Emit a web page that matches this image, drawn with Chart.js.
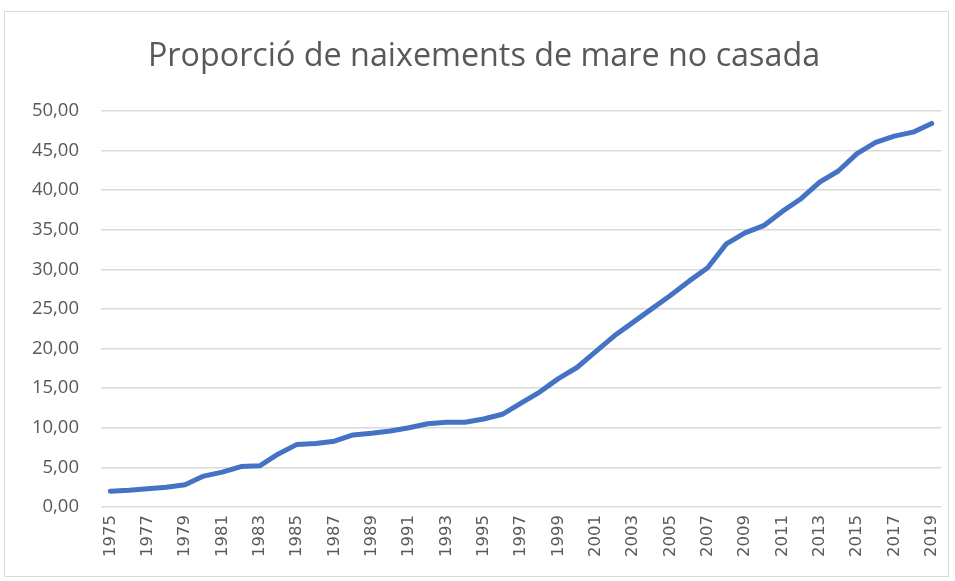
<!DOCTYPE html>
<html>
<head>
<meta charset="utf-8">
<script src="https://cdn.jsdelivr.net/npm/chart.js@4"></script>
<style>
html,body{margin:0;padding:0;background:#fff;}
#box{position:absolute;left:4px;top:11px;width:945px;height:566px;border:1px solid #d9d9d9;box-sizing:border-box;}
canvas{display:block;}
</style>
</head>
<body>
<div id="box"><canvas id="c" width="945" height="566"></canvas></div>
<script>
const years = ["1975","1976","1977","1978","1979","1980","1981","1982","1983","1984","1985","1986","1987","1988","1989","1990","1991","1992","1993","1994","1995","1996","1997","1998","1999","2000","2001","2002","2003","2004","2005","2006","2007","2008","2009","2010","2011","2012","2013","2014","2015","2016","2017","2018","2019"];
const proportion = [2.0,2.1,2.3,2.5,2.8,3.9,4.4,5.1,5.2,6.7,7.9,8.0,8.3,9.1,9.3,9.6,10.0,10.5,10.7,10.7,11.1,11.7,13.1,14.5,16.2,17.6,19.6,21.6,23.3,25.0,26.7,28.5,30.2,33.2,34.6,35.5,37.3,38.9,41.0,42.4,44.6,46.0,46.8,47.3,48.4];
const yTicks = [0,5,10,15,20,25,30,35,40,45,50];
const title = "Proporció de naixements de mare no casada";

new Chart(document.getElementById('c'), {
  type: 'line',
  data: {
    labels: years,
    datasets: [{
      data: proportion,
      borderColor: '#4472c4',
      borderWidth: 5,
      pointRadius: 0,
      tension: 0,
      fill: false,
      borderCapStyle: 'round',
      borderJoinStyle: 'round'
    }]
  },
  options: {
    responsive: false,
    animation: false,
    layout: {padding: {left: 22, right: 9, top: 0, bottom: 0}},
    plugins: {
      legend: {display: false},
      tooltip: {enabled: false},
      title: {
        display: true,
        text: title,
        color: '#595959',
        font: {family: "'Open Sans', sans-serif", size: 32.3, weight: 'normal'},
        padding: {top: 25, bottom: 35}
      }
    },
    scales: {
      x: {
        offset: true,
        grid: {display: false, drawTicks: false},
        border: {display: false},
        afterFit: s => { s.height = 71; s.paddingLeft = 0; s.paddingRight = 0; },
        ticks: {
          autoSkip: false,
          minRotation: 90, maxRotation: 90,
          padding: 8,
          color: '#595959',
          font: {family: "'DejaVu Sans', sans-serif", size: 16.5},
          callback: function(v, i) { return i % 2 === 0 ? years[i] : ''; }
        }
      },
      y: {
        min: 0, max: 50,
        afterBuildTicks: s => { s.ticks = yTicks.map(v => ({value: v})); },
        afterFit: s => { s.width = 74; },
        grid: {color: '#d9d9d9', lineWidth: 1.5, drawTicks: false},
        border: {display: false},
        ticks: {
          padding: 22,
          color: '#595959',
          font: {family: "'Open Sans', sans-serif", size: 18.5},
          callback: v => v.toFixed(2).replace('.', ',')
        }
      }
    }
  }
});
</script>
</body>
</html>
